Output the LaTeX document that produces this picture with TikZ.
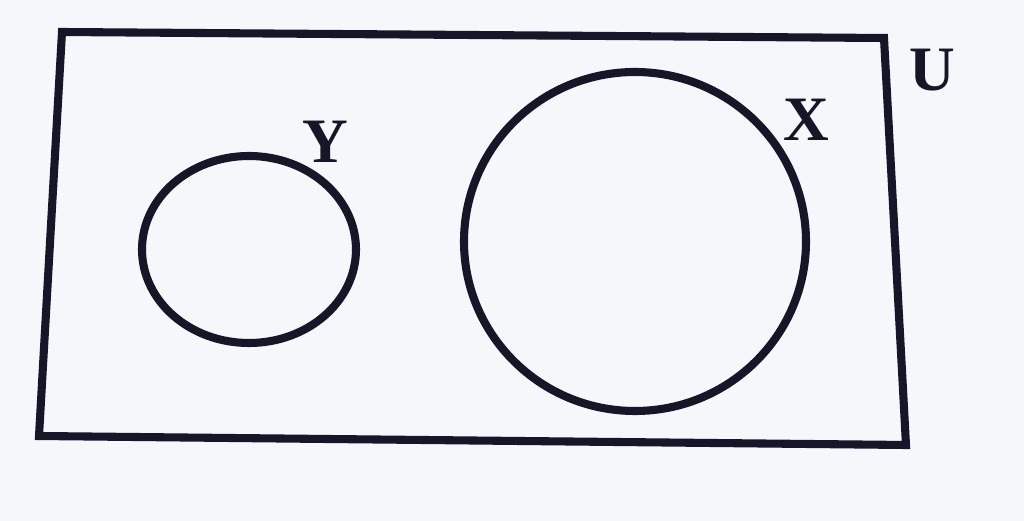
\documentclass[tikz,border=0pt]{standalone}
\usepackage{fontspec}
\setmainfont{Liberation Serif}
\usetikzlibrary{positioning,shapes.geometric}
\definecolor{inkNavy}{RGB}{22,22,40}
\definecolor{paperWhite}{RGB}{246,247,250}

\begin{document}
\begin{tikzpicture}[
    setline/.style={draw=inkNavy, line width=4.6pt, line join=miter},
    setcircle/.style={ellipse, setline, inner sep=0pt, outer sep=0pt},
    setlabel/.style={text=inkNavy, font=\fontsize{36}{36}\selectfont\bfseries, inner sep=0pt}
]

% background / page size
\fill[paperWhite] (0,0) rectangle (20.48,10.42);
\useasboundingbox (0,0) rectangle (20.48,10.42);

% Universal set
\coordinate (tl) at (1.24,9.78);
\coordinate (tr) at (17.68,9.66);
\coordinate (br) at (18.12,1.52);
\coordinate (bl) at (0.78,1.70);
\draw[setline] (tl) -- (tr) -- (br) -- (bl) -- cycle;
\node[setlabel] (ulabel) at (18.64,9.02) {U};

% Sets
\node[setcircle, minimum width=4.28cm, minimum height=3.74cm] (ysetc) at (4.98,5.43) {};
\node[setlabel] (ylabel) at (6.50,7.58) {Y};

\node[setcircle, minimum width=6.84cm, minimum height=6.78cm] (xsetc) at (12.70,5.59) {};
\node[setlabel] (xlabel) at (16.12,8.02) {X};

\end{tikzpicture}
\end{document}
